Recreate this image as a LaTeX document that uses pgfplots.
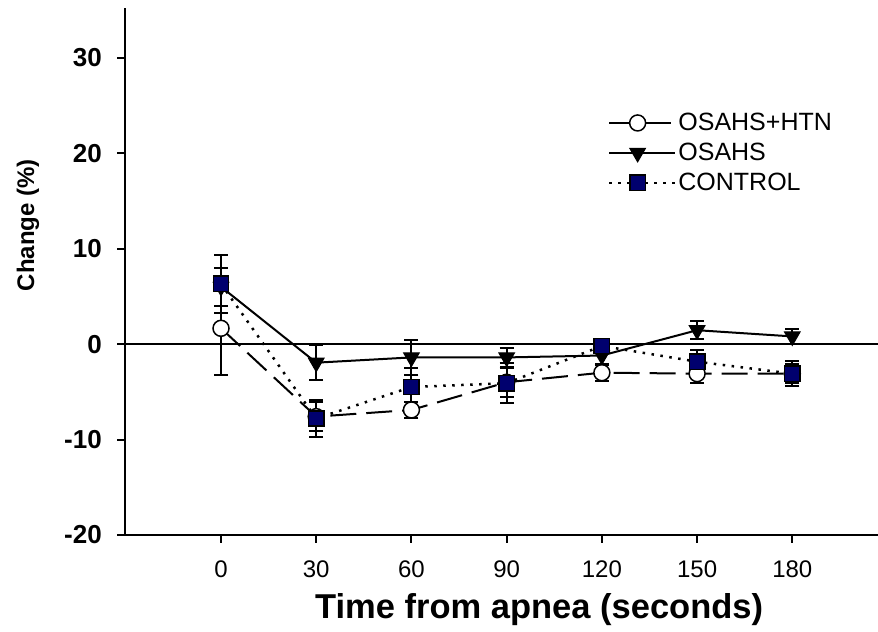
\documentclass[border=0pt]{standalone}
\usepackage{fontspec}
\setmainfont{Liberation Sans}
\usepackage{pgfplots}
\pgfplotsset{compat=1.18}
\definecolor{navyblue}{RGB}{0,0,110}

\begin{document}
\begin{tikzpicture}
\useasboundingbox (0,0) rectangle (878bp,632bp);
\begin{axis}[
  at={(125bp,97bp)}, anchor=south west,
  scale only axis, width=753bp, height=527bp,
  xmin=-30.25, xmax=207, ymin=-20, ymax=35.2,
  axis x line=bottom, axis y line=left,
  axis line style={-, line width=2bp, black},
  xtick={0,30,60,90,120,150,180},
  xticklabels={0,30,60,90,120,150,180},
  ytick={-20,-10,0,10,20,30},
  yticklabels={-20,-10,0,10,20,30},
  tick align=outside, major tick length=8bp,
  tick style={line width=2bp, black},
  xticklabel style={font=\fontsize{24bp}{24bp}\selectfont, inner sep=0pt, anchor=base, yshift=-34bp},
  yticklabel style={font=\bfseries\fontsize{26bp}{26bp}\selectfont, inner sep=0pt, anchor=east, xshift=-15bp},
  xlabel={Time from apnea (seconds)},
  ylabel={Change (\%)},
  xlabel style={font=\bfseries\fontsize{34.5bp}{34.5bp}\selectfont, at={(axis description cs:0.55,0)}, anchor=base, yshift=-83bp, inner sep=0pt},
  ylabel style={font=\bfseries\fontsize{24bp}{24bp}\selectfont, at={(axis description cs:0,0.588)}, anchor=center, yshift=97bp, inner sep=0pt},
  clip=false,
  legend style={draw=none, fill=none, at={(axis description cs:0.641,0.804)}, anchor=north west,
    font=\fontsize{25bp}{25bp}\selectfont, row sep=7bp, inner sep=0pt},
  legend cell align=left,
  legend image code/.code={\path (0bp,0bp) -- (66bp,0bp);\draw[mark repeat=2,mark phase=2] plot coordinates {(0bp,0bp)(28.5bp,0bp)(57bp,0bp)};},
  error bars/error bar style={line width=2bp, solid, black},
  error bars/error mark options={line width=2bp, mark size=7bp, solid, black, rotate=90},
]
\draw[line width=1.4bp, black] (axis cs:-30.25,0) -- (axis cs:207,0);

% OSAHS+HTN
\addplot[black, line width=2bp, dash pattern=on 26bp off 10bp,
  mark=*, mark size=8bp, mark options={solid, fill=white, draw=black, line width=1.5bp},
  error bars/.cd, y dir=both, y explicit]
  table[x=t, y=v, y error=e] {
t v e
0 1.65 4.9
30 -7.6 1.5
60 -6.9 0.85
90 -4.0 1.5
120 -3.0 0.85
150 -3.1 1.0
180 -3.1 1.0
};
\addlegendentry{OSAHS+HTN}

% OSAHS
\addplot[black, line width=2bp, solid,
  mark=triangle*, mark size=9bp, mark options={solid, fill=black, draw=black, rotate=180, line width=1bp},
  error bars/.cd, y dir=both, y explicit]
  table[x=t, y=v, y error=e] {
t v e
0 6.0 2.0
30 -1.95 1.85
60 -1.4 1.8
90 -1.4 1.0
120 -1.2 0.9
150 1.45 0.95
180 0.8 0.8
};
\addlegendentry{OSAHS}

% CONTROL
\addplot[black, line width=2.5bp, dash pattern=on 2.5bp off 6.5bp,
  mark=square*, mark size=7.7bp, mark options={solid, fill=navyblue, draw=black, line width=1.5bp},
  error bars/.cd, y dir=both, y explicit]
  table[x=t, y=v, y error=e] {
t v e
0 6.3 3.0
30 -7.8 1.95
60 -4.5 2.0
90 -4.1 2.1
120 -0.2 0.6
150 -1.85 1.25
180 -3.1 1.3
};
\addlegendentry{CONTROL}
\end{axis}
\end{tikzpicture}
\end{document}
